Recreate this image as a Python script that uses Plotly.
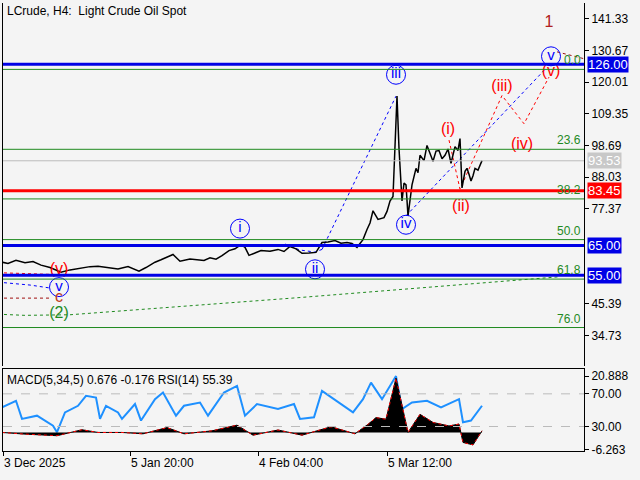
import plotly.graph_objects as go

# price (x = bar position on the chart's time scale)
px_x = [2, 8, 16, 25, 33, 41, 50, 61, 70, 82, 90, 98, 108, 118, 128, 139, 146, 155, 161, 167, 173, 180, 190,
        204, 210, 216, 222, 229, 235, 241, 245, 249, 255, 261, 270, 278, 284, 290, 296, 302, 309, 316, 322,
        328, 335, 341, 347, 352, 357, 363, 367, 370, 373, 378, 384, 387, 390, 393, 394, 396, 397, 399, 402,
        404, 406, 408, 410, 412, 416, 418, 420, 424, 427, 430, 433, 436, 439, 442, 445, 448, 451, 455, 458,
        460, 462, 465, 467, 469, 471, 473, 475, 478, 482]
px_y = [59.4, 59.0, 60.0, 59.2, 59.6, 58.4, 57.6, 56.0, 56.8, 57.4, 57.9, 58.0, 57.5, 57.1, 57.9, 56.4, 57.6,
        59.4, 60.2, 61.0, 62.0, 59.7, 60.5, 60.0, 60.9, 60.4, 61.6, 63.3, 63.9, 65.3, 64.4, 61.7, 62.6, 63.3,
        63.1, 63.7, 63.0, 64.7, 63.9, 62.4, 62.5, 62.7, 66.0, 66.2, 66.7, 65.8, 66.0, 65.7, 64.4, 67.0, 70.4,
        72.6, 76.7, 73.8, 74.4, 76.5, 80.0, 81.5, 90.0, 108.7, 115.3, 97.7, 80.0, 86.0, 85.4, 75.0, 80.2,
        85.4, 91.0, 89.5, 95.4, 93.6, 98.7, 96.0, 93.4, 96.8, 97.0, 94.2, 95.4, 97.5, 92.7, 98.3, 97.0,
        101.0, 84.4, 90.0, 91.0, 89.0, 86.7, 88.5, 91.0, 90.4, 93.6]

rsi_x = [2, 16, 22, 37, 53, 57, 65, 78, 86, 96, 100, 106, 118, 122, 135, 141, 155, 163, 176, 184, 200, 208,
         224, 237, 245, 257, 278, 294, 300, 314, 322, 339, 353, 363, 371, 382, 396, 402, 412, 427, 441, 459,
         463, 471, 482]
rsi_y = [53.4, 61.5, 39.3, 43.3, 31, 23, 47.3, 55.4, 67.6, 65.5, 39.3, 55.4, 47.3, 39.3, 57.5, 37.3, 63.5,
         71.6, 43.3, 55.4, 59.4, 43.3, 71.6, 79.7, 43.3, 57.5, 51.4, 57.5, 39.3, 41.3, 73.6, 59.4, 47.3, 63.5,
         83.7, 63.5, 91.8, 51.4, 59.4, 61.5, 53.4, 63.5, 35.2, 37.3, 55.4]

macd_x = [2, 24, 57, 82, 98, 122, 143, 167, 184, 212, 237, 253, 278, 302, 331, 355, 368, 376, 386, 396, 408,
          420, 433, 449, 459, 463, 473, 482]
macd_y = [0, -0.6, -1.2, 1.0, 0, 0, -0.5, 1.8, -0.5, 0.6, 2.7, -1.0, 0.9, -1.0, 2.1, -0.5, 3.0, 5.5, 4.9,
          20.1, 0, 6.7, 3.7, 2.4, 3.1, -3.7, -4.6, 0.6]

x_ticks = [3, 130, 258, 387]
x_labels = ["3 Dec 2025", "5 Jan 20:00", "4 Feb 04:00", "5 Mar 12:00"]
y_ticks = [141.33, 130.67, 120.01, 109.35, 98.69, 88.03, 77.37, 45.39, 34.73]

fib_levels = [124.3, 97.4, 80.7, 67.0, 53.7, 37.4]
fib_names = ["0.0", "23.6", "38.2", "50.0", "61.8", "76.0"]
key_levels = [126.0, 65.0, 55.0]
resist = 83.45
last_price = 93.53

blue_waves = ["i", "ii", "iii", "iv", "v", "v"]
blue_x = [240, 315, 396, 406, 551, 59]
blue_y = [70.7, 57.0, 122.5, 72.0, 128.7, 51.0]
red_waves = ["(i)", "(ii)", "(iii)", "(iv)", "(v)", "(v)"]
red_x = [448, 461, 502, 522, 551, 59]
red_y = [104.0, 78.0, 118.5, 99.0, 123.3, 56.8]

fig = go.Figure()
F = "Liberation Sans"

# levels
for v in fib_levels:
    fig.add_hline(y=v, line=dict(color="#1f8a1f", width=1))
for v, n in zip(fib_levels, fib_names):
    fig.add_annotation(x=583, y=v, text=n, showarrow=False, xanchor="right", yanchor="bottom",
                       font=dict(color="#1f8a1f", size=12, family=F))
fig.add_hline(y=last_price, line=dict(color="#bbbbbb", width=1))
fig.add_hline(y=resist, line=dict(color="#ff0000", width=3))
for v in key_levels:
    fig.add_hline(y=v, line=dict(color="#0000e6", width=3))

# forecast dotted paths
fig.add_trace(go.Scatter(x=[322, 396], y=[63.7, 115.3], mode="lines", line=dict(color="#0000ff", width=1, dash="dot")))
fig.add_trace(go.Scatter(x=[285, 300, 315, 322], y=[65.5, 63.5, 62.8, 63.7], mode="lines", line=dict(color="#0000ff", width=1, dash="dot")))
fig.add_trace(go.Scatter(x=[406, 545], y=[75.0, 124.3], mode="lines", line=dict(color="#0000ff", width=1, dash="dot")))
fig.add_trace(go.Scatter(x=[449, 460, 502, 524, 549], y=[100.5, 84.0, 115.5, 106.0, 121.7], mode="lines",
                         line=dict(color="#ff0000", width=1, dash="dot")))
fig.add_trace(go.Scatter(x=[557, 584], y=[130.2, 127.9], mode="lines", line=dict(color="#a01010", width=1, dash="dot")))
fig.add_trace(go.Scatter(x=[4, 30, 50], y=[52.5, 51.7, 50.7], mode="lines", line=dict(color="#0000ff", width=1, dash="dot")))
fig.add_trace(go.Scatter(x=[4, 50], y=[47.3, 47.3], mode="lines", line=dict(color="#a01010", width=1, dash="dot")))
fig.add_trace(go.Scatter(x=[4, 25, 70, 300, 560], y=[41.8, 41.5, 41.7, 47.5, 54.5], mode="lines",
                         line=dict(color="#1f8a1f", width=1, dash="dot")))
fig.add_trace(go.Scatter(x=[4, 40, 59], y=[55.8, 55.3, 55.2], mode="lines", line=dict(color="#ff0000", width=1, dash="dot")))

# price
fig.add_trace(go.Scatter(x=px_x, y=px_y, mode="lines", line=dict(color="black", width=1.5)))

# wave labels
fig.add_trace(go.Scatter(x=blue_x, y=blue_y, mode="markers+text", text=blue_waves, textposition="middle center",
                         marker=dict(symbol="circle-open", size=19, color="#0000ff", line=dict(width=1)),
                         textfont=dict(color="#0000ff", size=15, family=F)))
fig.add_trace(go.Scatter(x=red_x, y=red_y, mode="text", text=red_waves,
                         textfont=dict(color="#ff0000", size=16, family=F)))
fig.add_trace(go.Scatter(x=[549, 59, 59], y=[140.0, 47.2, 41.8], mode="text", text=["1", "c", "(2)"],
                         textfont=dict(color=["#b02020", "#c04020", "#1f8a1f"], size=16, family=F)))

# lower panel
fig.add_hline(y=70, line=dict(color="#bbbbbb", width=1, dash="dash"), yref="y2")
fig.add_hline(y=30, line=dict(color="#bbbbbb", width=1, dash="dash"), yref="y2")
fig.add_trace(go.Scatter(x=macd_x, y=macd_y, yaxis="y3", mode="lines", fill="tozeroy", fillcolor="black",
                         line=dict(color="black", width=1)))
fig.add_trace(go.Scatter(x=macd_x, y=macd_y, yaxis="y3", mode="lines", line=dict(color="#ff0000", width=1, dash="dot")))
fig.add_trace(go.Scatter(x=rsi_x, y=rsi_y, yaxis="y2", mode="lines", line=dict(color="#1e90ff", width=2)))

# right-side price boxes
for v, c in [(126.0, "#0000e6"), (65.0, "#0000e6"), (55.0, "#0000e6"), (resist, "#ff0000"), (last_price, "#c8c8c8")]:
    fig.add_annotation(x=0.917, xref="paper", y=v, text=f"{v:.2f}", showarrow=False, xanchor="left",
                       bgcolor=c, font=dict(color="white", size=13, family=F), borderpad=0)

fig.add_annotation(x=0.008, xref="paper", y=0.995, yref="paper", text="LCrude, H4:  Light Crude Oil Spot",
                   showarrow=False, xanchor="left", yanchor="top", font=dict(size=12, family=F, color="black"))
fig.add_annotation(x=0.008, xref="paper", y=0.218, yref="paper", text="MACD(5,34,5) 0.676 -0.176 RSI(14) 55.39",
                   showarrow=False, xanchor="left", yanchor="top", font=dict(size=12, family=F, color="black"))

ax = dict(showline=True, linecolor="black", mirror=True, showgrid=False, zeroline=False,
          ticks="outside", ticklen=4, tickcolor="black", tickfont=dict(size=12, family=F, color="black"))
fig.update_layout(
    width=640, height=480, margin=dict(l=0, r=0, t=0, b=0),
    paper_bgcolor="#f4f4f4", plot_bgcolor="#f4f4f4", showlegend=False,
    xaxis=dict(ax, domain=[3 / 640, 584 / 640], range=[3, 584], anchor="y2",
               tickvals=x_ticks, ticktext=x_labels, ticklabelposition="outside right"),
    yaxis=dict(ax, domain=[1 - 370 / 480, 1 - 3 / 480], range=[24.4, 146.66], side="right",
               tickvals=y_ticks, anchor="x"),
    yaxis2=dict(ax, domain=[1 - 456 / 480, 1 - 373 / 480], range=[-0.3, 100.3], side="right",
                tickvals=[70, 30], ticktext=["70.00", "30.00"], anchor="x"),
    yaxis3=dict(ax, overlaying="y2", range=[-6.96, 23.45], side="right", tickvals=[20.888, -6.263],
                ticktext=["20.888", "-6.263"], anchor="x"),
)
fig.write_html("out.html", config={"displayModeBar": False},
               post_script="document.body.style.margin='0';document.body.style.background='#f4f4f4';")
